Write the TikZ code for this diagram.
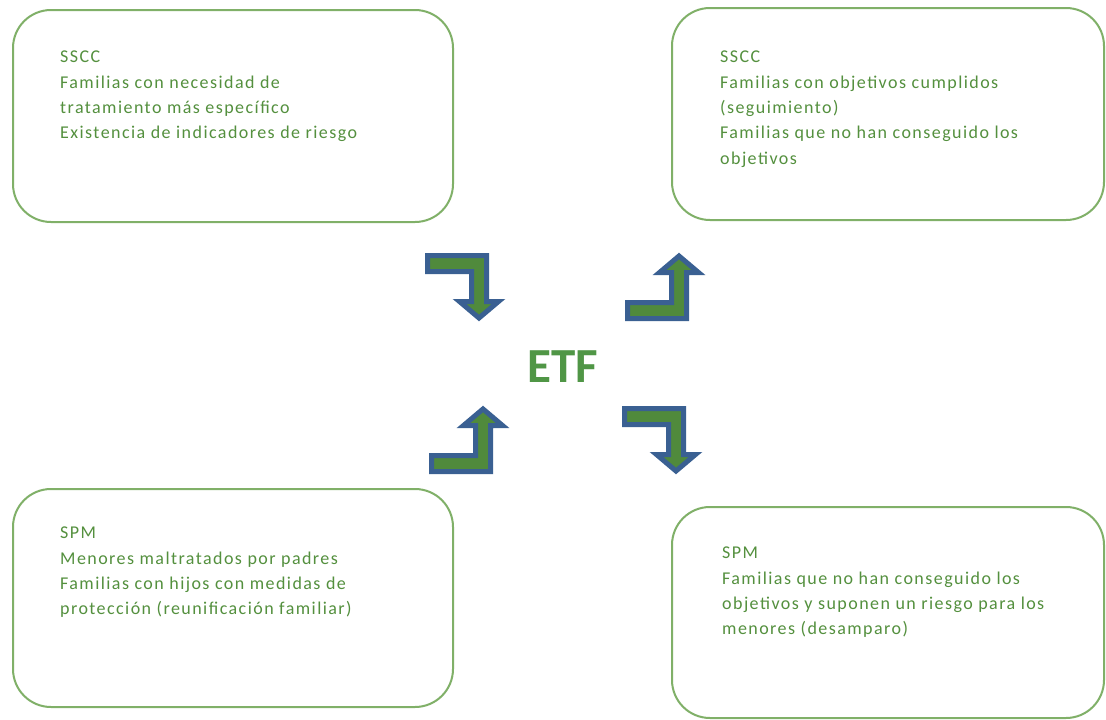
\documentclass[tikz,border=0pt]{standalone}
\usepackage{fontspec}
\setmainfont{Carlito}
\newfontfamily\boxfont[LetterSpace=8]{Carlito}
\definecolor{txtgreen}{RGB}{84,144,62}
\definecolor{boxgreen}{RGB}{128,176,104}
\definecolor{arrblue}{RGB}{58,96,146}
\definecolor{arrgreen}{RGB}{80,138,60}
\definecolor{etfgreen}{RGB}{80,150,70}
\tikzset{
  boxnode/.style={draw=boxgreen, line width=2pt, rounded corners=38pt, rectangle, inner sep=0pt},
  boxtext/.style={anchor=north west, align=left, inner sep=0pt, text=txtgreen, font=\boxfont\fontsize{18}{25.3}\selectfont},
  arrowshape/.style={draw=arrblue, fill=arrgreen, line width=5pt, line join=miter},
  bentarrow/.pic={\draw[arrowshape] (2.5,2.5) -- (61.5,2.5) -- (61.5,48.5) -- (73.5,48.5) -- (54,65) -- (34.5,48.5) -- (46.5,48.5) -- (46.5,18.5) -- (2.5,18.5) -- cycle;}
}
\begin{document}
\begin{tikzpicture}[x=1pt,y=-1pt]
\useasboundingbox[fill=white] (0,0) rectangle (1106,720);
% boxes
\node[boxnode, minimum width=440pt, minimum height=212pt] (tl) at (233,116) {};
\node[boxnode, minimum width=432pt, minimum height=212pt] (tr) at (888,114) {};
\node[boxnode, minimum width=440pt, minimum height=218pt] (bl) at (233,598) {};
\node[boxnode, minimum width=432pt, minimum height=211pt] (br) at (888,612.5) {};
% texts
\node[boxtext] (tltxt) at (60,51) {SSCC\\Familias con necesidad de\\tratamiento más específico\\Existencia de indicadores de riesgo};
\node[boxtext] (trtxt) at (720,51) {SSCC\\Familias con objetivos cumplidos\\(seguimiento)\\Familias que no han conseguido los\\objetivos};
\node[boxtext] (bltxt) at (60,527) {SPM\\Menores maltratados por padres\\Familias con hijos con medidas de\\protección (reunificación familiar)};
\node[boxtext] (brtxt) at (722,547) {SPM\\Familias que no han conseguido los\\objetivos y suponen un riesgo para los\\menores (desamparo)};
% center
\node[text=etfgreen, font=\fontsize{49}{52}\selectfont\bfseries] (etf) at (563,367) {ETF};
% arrows
\pic (a1) at (425,253) {bentarrow};
\pic[yscale=-1] (a2) at (625,321) {bentarrow};
\pic[yscale=-1] (a3) at (429,474) {bentarrow};
\pic (a4) at (622,406) {bentarrow};
\end{tikzpicture}
\end{document}
